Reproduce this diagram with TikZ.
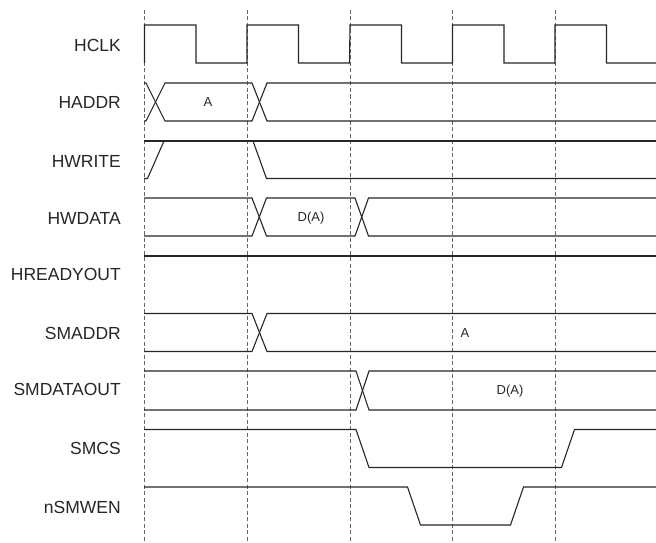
\documentclass[tikz,border=0pt]{standalone}
\usepackage{fontspec}
\setmainfont{Liberation Sans}
\usepackage{tikz}

\begin{document}
\begin{tikzpicture}[x=1pt,y=-1pt,
  sig/.style={line width=1.1pt, draw=black!85},
  cyc/.style={line width=0.7pt, draw=black!60, dash pattern=on 4pt off 2.5pt},
  sname/.style={font=\fontsize{17.5}{20}\selectfont, anchor=east, inner sep=0pt, text=black!85},
  val/.style={font=\fontsize{13}{15}\selectfont, inner sep=0pt, text=black!85}
]
\useasboundingbox (0,0) rectangle (656,543);

% clock edges
\foreach \x in {144.5,247,350,452.5,555}
  \draw[cyc] (\x,10) -- (\x,543);

% signal names
\node[sname] (hclk)   at (121,45)  {HCLK};
\node[sname] (haddr)  at (121,102) {HADDR};
\node[sname] (hwrite) at (121,161) {HWRITE};
\node[sname] (hwdata) at (121,218) {HWDATA};
\node[sname] (hready) at (121,274) {HREADYOUT};
\node[sname] (smaddr) at (121,333) {SMADDR};
\node[sname] (smdout) at (121,389) {SMDATAOUT};
\node[sname] (smcs)   at (121,448) {SMCS};
\node[sname] (smwen)  at (121,507) {nSMWEN};

% HCLK
\draw[sig] (144.5,63) \foreach \x in {144.5,247,350,452.5,555}
  {-- (\x,25) -- (\x+51.5,25) -- (\x+51.5,63) -- (\x+102.5,63)};

% HADDR
\draw[sig] (144,83) -- (146,83) -- (165,121) -- (252,121) -- (267,83) -- (656,83);
\draw[sig] (144,121) -- (146,121) -- (165,83) -- (252,83) -- (267,121) -- (656,121);
\node[val] (haddrA) at (208,102) {A};

% HWRITE
\draw[sig] (144,141) -- (656,141);
\draw[sig] (144,178.5) -- (147.5,178.5) -- (164,141);
\draw[sig] (253,141) -- (266.5,178.5) -- (656,178.5);

% HWDATA
\draw[sig] (144,198) -- (252,198) -- (266.5,236) -- (355,236) -- (368.5,198) -- (656,198);
\draw[sig] (144,236) -- (252,236) -- (266.5,198) -- (355,198) -- (368.5,236) -- (656,236);
\node[val] (hwdataD) at (311,218) {D(A)};

% HREADYOUT
\draw[sig] (144,256) -- (656,256);

% SMADDR
\draw[sig] (144,313.5) -- (252,313.5) -- (267,351.5) -- (656,351.5);
\draw[sig] (144,351.5) -- (252,351.5) -- (267,313.5) -- (656,313.5);
\node[val] (smaddrA) at (465,333) {A};

% SMDATAOUT
\draw[sig] (144,371) -- (356,371) -- (369,410) -- (656,410);
\draw[sig] (144,410) -- (356,410) -- (369,371) -- (656,371);
\node[val] (smdoutD) at (510,391) {D(A)};

% SMCS
\draw[sig] (144,429.5) -- (356,429.5) -- (369,467.5) -- (561.5,467.5) -- (574.5,429.5) -- (656,429.5);

% nSMWEN
\draw[sig] (144,487) -- (407.5,487) -- (420.5,525) -- (510.5,525) -- (523.5,487) -- (656,487);
\end{tikzpicture}
\end{document}
